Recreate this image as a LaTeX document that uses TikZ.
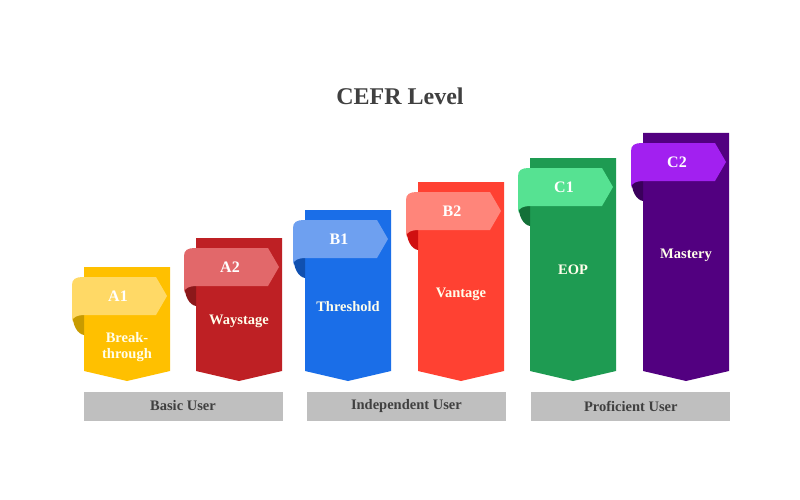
\documentclass[tikz,border=0pt]{standalone}
\usepackage{fontspec}
\setmainfont{Liberation Serif}
\usepackage{tikz}
\usepackage{xcolor}
\usetikzlibrary{positioning, calc}
\definecolor{colA1}{RGB}{255,192,0}
\definecolor{ribA1}{RGB}{255,217,102}
\definecolor{fldA1}{RGB}{200,155,0}
\definecolor{colA2}{RGB}{190,32,36}
\definecolor{ribA2}{RGB}{226,104,106}
\definecolor{fldA2}{RGB}{140,24,26}
\definecolor{colB1}{RGB}{26,110,232}
\definecolor{ribB1}{RGB}{110,160,240}
\definecolor{fldB1}{RGB}{16,80,176}
\definecolor{colB2}{RGB}{255,65,50}
\definecolor{ribB2}{RGB}{255,133,122}
\definecolor{fldB2}{RGB}{208,16,16}
\definecolor{colC1}{RGB}{30,155,82}
\definecolor{ribC1}{RGB}{86,226,146}
\definecolor{fldC1}{RGB}{19,112,56}
\definecolor{colC2}{RGB}{82,0,128}
\definecolor{ribC2}{RGB}{162,32,240}
\definecolor{fldC2}{RGB}{58,0,92}
\definecolor{cBar}{RGB}{191,191,191}
\definecolor{cInk}{RGB}{64,64,64}
\tikzset{
	title/.style  ={font=\fontsize{24}{28}\selectfont\bfseries, text=cInk},
	tag/.style    ={font=\fontsize{16}{18}\selectfont\bfseries, text=white},
	body/.style   ={font=\fontsize{14.5}{16}\selectfont\bfseries, text=white!92!yellow, align=center},
	group/.style  ={rectangle, fill=cBar, minimum width=199pt, minimum height=29pt, inner sep=0pt, font=\fontsize{14.5}{16}\selectfont\bfseries, text=cInk},
}

\begin{document}
\begin{tikzpicture}[x=1pt, y=-1pt]
	\useasboundingbox (0,0) rectangle (800,500);
	\fill[white] (0,0) rectangle (800,500);
	\node[title] (head) at (400,96) {CEFR Level};
	% one column per level: left edge, top, level, y of text, text
	\foreach \lft/\tp/\lbl/\ty/\txt in {84/267/A1/347/{Break-\\through}, 196/238/A2/321/Waystage, 305/210/B1/307/Threshold, 418/182/B2/294/Vantage, 530/158/C1/270/EOP, 643/133/C2/255/Mastery}{
		\fill[col\lbl] (\lft,\tp) -- ({\lft+86},\tp) -- ({\lft+86},371) -- ({\lft+43},381) -- (\lft,371) -- cycle;
		\fill[fld\lbl] (\lft,{\tp+42}) -- ({\lft-12},{\tp+42}) .. controls ({\lft-12},{\tp+60}) and ({\lft-6},{\tp+67}) .. (\lft,{\tp+68}) -- cycle;
		\fill[rib\lbl] ({\lft-12},{\tp+18}) .. controls ({\lft-12},{\tp+12}) and ({\lft-8},{\tp+10}) .. ({\lft-1},{\tp+10}) -- ({\lft+72},{\tp+10}) -- ({\lft+83},{\tp+29}) -- ({\lft+72},{\tp+48}) -- (\lft,{\tp+48}) .. controls ({\lft-6},{\tp+48}) and ({\lft-12},{\tp+50}) .. ({\lft-12},{\tp+55}) -- cycle;
		\node[tag] (tag\lbl) at ({\lft+34},{\tp+29}) {\lbl};
		\node[body] (txt\lbl) at ({\lft+43},\ty) {\txt};
	}
	\node[group] (basic) at (183,406) {Basic User};
	\node[group, right=24pt of basic] (indep) {Independent User};
	\node[group, right=25pt of indep] (prof) {Proficient User};
\end{tikzpicture}
\end{document}
